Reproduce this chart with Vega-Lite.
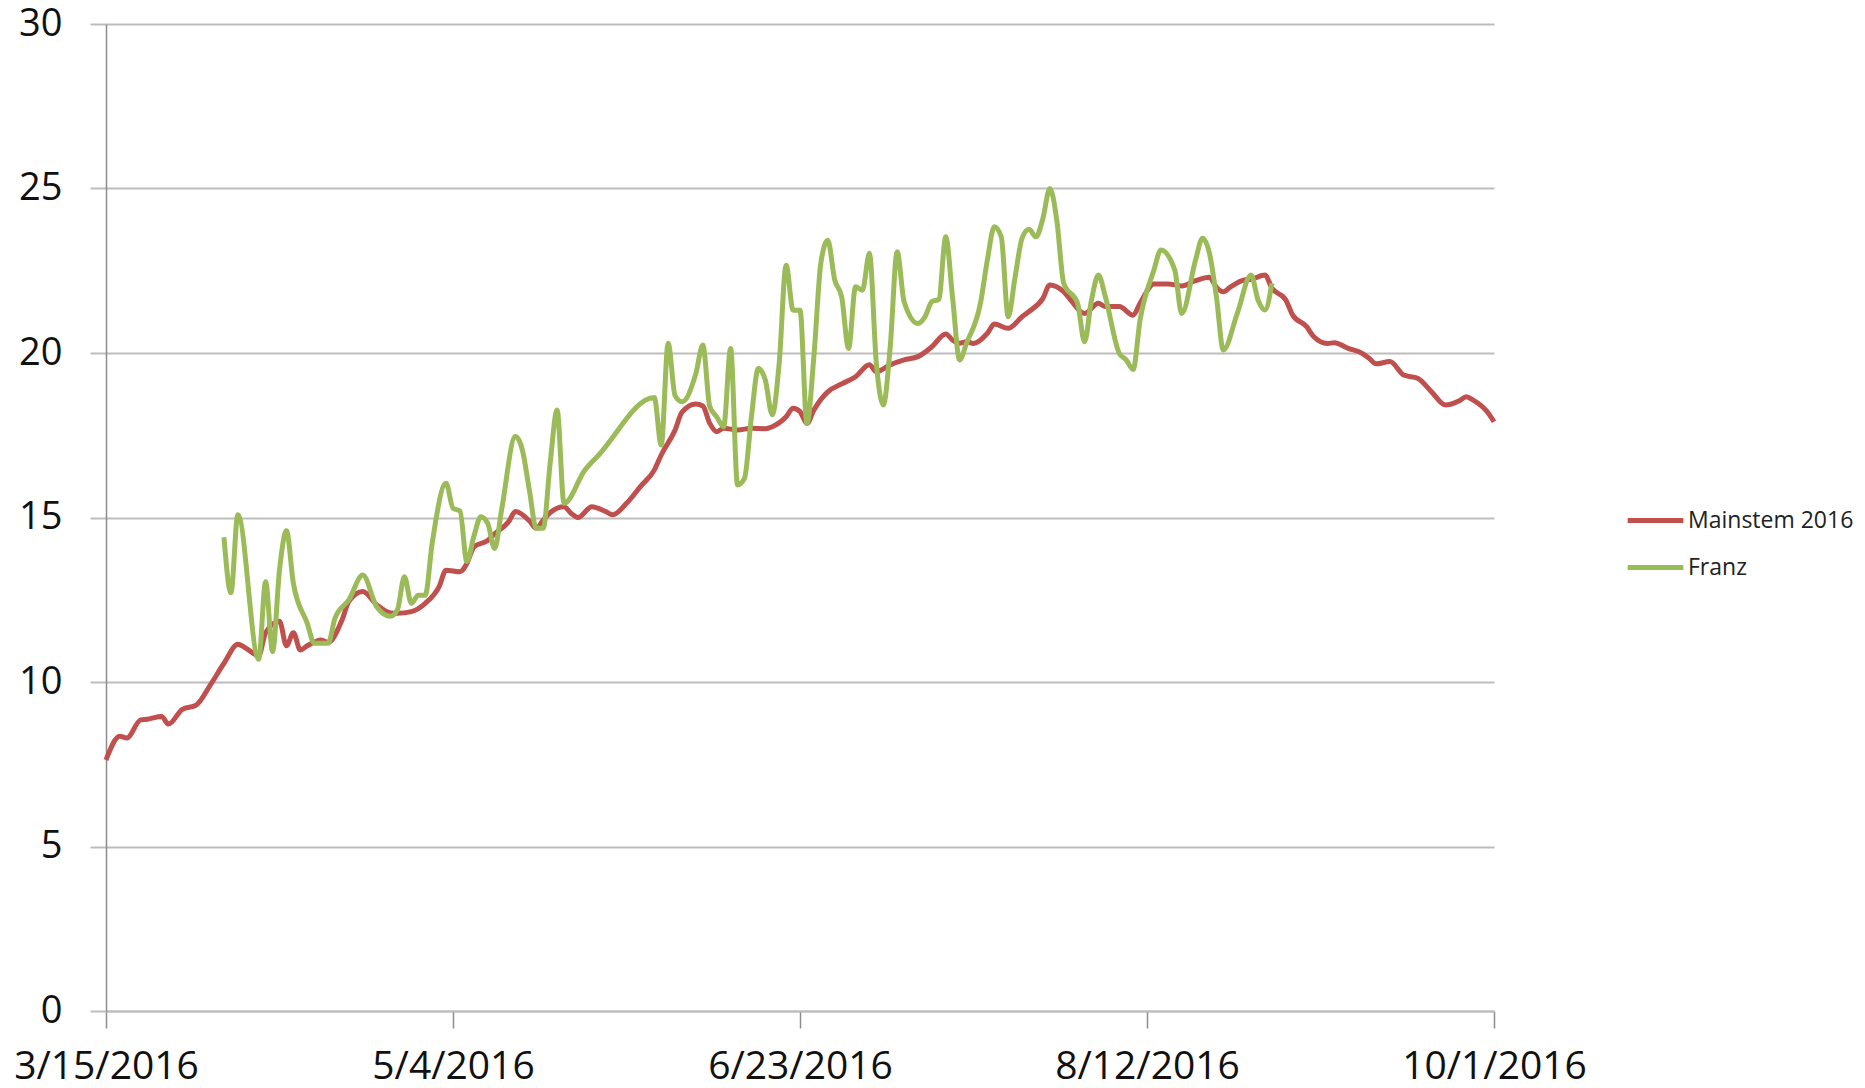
{
  "$schema": "https://vega.github.io/schema/vega-lite/v6.json",
  "autosize": {"type": "none"},
  "padding": {"left": 106, "top": 24, "right": 371, "bottom": 77},
  "width": 1388,
  "height": 987,
  "background": "white",
  "config": {
    "view": {"stroke": null},
    "font": "Open Sans"
  },
  "data": {
    "values": [
      {"date": "2016-03-15", "series": "Mainstem 2016", "temp": 7.63},
      {"date": "2016-03-17", "series": "Mainstem 2016", "temp": 8.35},
      {"date": "2016-03-18", "series": "Mainstem 2016", "temp": 8.3},
      {"date": "2016-03-20", "series": "Mainstem 2016", "temp": 8.85},
      {"date": "2016-03-21", "series": "Mainstem 2016", "temp": 8.87},
      {"date": "2016-03-23", "series": "Mainstem 2016", "temp": 8.95},
      {"date": "2016-03-24", "series": "Mainstem 2016", "temp": 8.72},
      {"date": "2016-03-26", "series": "Mainstem 2016", "temp": 9.17},
      {"date": "2016-03-28", "series": "Mainstem 2016", "temp": 9.3},
      {"date": "2016-03-30", "series": "Mainstem 2016", "temp": 9.9},
      {"date": "2016-04-01", "series": "Mainstem 2016", "temp": 10.57},
      {"date": "2016-04-03", "series": "Mainstem 2016", "temp": 11.15},
      {"date": "2016-04-04", "series": "Mainstem 2016", "temp": 11.05},
      {"date": "2016-04-06", "series": "Mainstem 2016", "temp": 10.8},
      {"date": "2016-04-07", "series": "Mainstem 2016", "temp": 11.5},
      {"date": "2016-04-09", "series": "Mainstem 2016", "temp": 11.85},
      {"date": "2016-04-10", "series": "Mainstem 2016", "temp": 11.1},
      {"date": "2016-04-11", "series": "Mainstem 2016", "temp": 11.5},
      {"date": "2016-04-12", "series": "Mainstem 2016", "temp": 10.97},
      {"date": "2016-04-13", "series": "Mainstem 2016", "temp": 11.1},
      {"date": "2016-04-15", "series": "Mainstem 2016", "temp": 11.28},
      {"date": "2016-04-16", "series": "Mainstem 2016", "temp": 11.2},
      {"date": "2016-04-18", "series": "Mainstem 2016", "temp": 11.88},
      {"date": "2016-04-19", "series": "Mainstem 2016", "temp": 12.45},
      {"date": "2016-04-21", "series": "Mainstem 2016", "temp": 12.75},
      {"date": "2016-04-23", "series": "Mainstem 2016", "temp": 12.35},
      {"date": "2016-04-25", "series": "Mainstem 2016", "temp": 12.1},
      {"date": "2016-04-26", "series": "Mainstem 2016", "temp": 12.09},
      {"date": "2016-04-28", "series": "Mainstem 2016", "temp": 12.14},
      {"date": "2016-04-30", "series": "Mainstem 2016", "temp": 12.39},
      {"date": "2016-05-02", "series": "Mainstem 2016", "temp": 12.9},
      {"date": "2016-05-03", "series": "Mainstem 2016", "temp": 13.4},
      {"date": "2016-05-05", "series": "Mainstem 2016", "temp": 13.35},
      {"date": "2016-05-06", "series": "Mainstem 2016", "temp": 13.6},
      {"date": "2016-05-07", "series": "Mainstem 2016", "temp": 14.1},
      {"date": "2016-05-09", "series": "Mainstem 2016", "temp": 14.3},
      {"date": "2016-05-10", "series": "Mainstem 2016", "temp": 14.5},
      {"date": "2016-05-12", "series": "Mainstem 2016", "temp": 14.87},
      {"date": "2016-05-13", "series": "Mainstem 2016", "temp": 15.18},
      {"date": "2016-05-15", "series": "Mainstem 2016", "temp": 14.9},
      {"date": "2016-05-16", "series": "Mainstem 2016", "temp": 14.67},
      {"date": "2016-05-17", "series": "Mainstem 2016", "temp": 14.92},
      {"date": "2016-05-18", "series": "Mainstem 2016", "temp": 15.15},
      {"date": "2016-05-20", "series": "Mainstem 2016", "temp": 15.33},
      {"date": "2016-05-21", "series": "Mainstem 2016", "temp": 15.13},
      {"date": "2016-05-22", "series": "Mainstem 2016", "temp": 15.0},
      {"date": "2016-05-24", "series": "Mainstem 2016", "temp": 15.33},
      {"date": "2016-05-26", "series": "Mainstem 2016", "temp": 15.18},
      {"date": "2016-05-27", "series": "Mainstem 2016", "temp": 15.08},
      {"date": "2016-05-29", "series": "Mainstem 2016", "temp": 15.43},
      {"date": "2016-05-31", "series": "Mainstem 2016", "temp": 15.94},
      {"date": "2016-06-02", "series": "Mainstem 2016", "temp": 16.44},
      {"date": "2016-06-03", "series": "Mainstem 2016", "temp": 16.9},
      {"date": "2016-06-05", "series": "Mainstem 2016", "temp": 17.66},
      {"date": "2016-06-06", "series": "Mainstem 2016", "temp": 18.2},
      {"date": "2016-06-08", "series": "Mainstem 2016", "temp": 18.45},
      {"date": "2016-06-09", "series": "Mainstem 2016", "temp": 18.39},
      {"date": "2016-06-10", "series": "Mainstem 2016", "temp": 17.86},
      {"date": "2016-06-11", "series": "Mainstem 2016", "temp": 17.61},
      {"date": "2016-06-12", "series": "Mainstem 2016", "temp": 17.71},
      {"date": "2016-06-14", "series": "Mainstem 2016", "temp": 17.66},
      {"date": "2016-06-16", "series": "Mainstem 2016", "temp": 17.71},
      {"date": "2016-06-18", "series": "Mainstem 2016", "temp": 17.7},
      {"date": "2016-06-19", "series": "Mainstem 2016", "temp": 17.76},
      {"date": "2016-06-21", "series": "Mainstem 2016", "temp": 18.06},
      {"date": "2016-06-22", "series": "Mainstem 2016", "temp": 18.32},
      {"date": "2016-06-23", "series": "Mainstem 2016", "temp": 18.22},
      {"date": "2016-06-24", "series": "Mainstem 2016", "temp": 17.86},
      {"date": "2016-06-25", "series": "Mainstem 2016", "temp": 18.27},
      {"date": "2016-06-27", "series": "Mainstem 2016", "temp": 18.82},
      {"date": "2016-06-29", "series": "Mainstem 2016", "temp": 19.06},
      {"date": "2016-07-01", "series": "Mainstem 2016", "temp": 19.28},
      {"date": "2016-07-03", "series": "Mainstem 2016", "temp": 19.64},
      {"date": "2016-07-04", "series": "Mainstem 2016", "temp": 19.43},
      {"date": "2016-07-06", "series": "Mainstem 2016", "temp": 19.64},
      {"date": "2016-07-08", "series": "Mainstem 2016", "temp": 19.79},
      {"date": "2016-07-10", "series": "Mainstem 2016", "temp": 19.89},
      {"date": "2016-07-12", "series": "Mainstem 2016", "temp": 20.19},
      {"date": "2016-07-14", "series": "Mainstem 2016", "temp": 20.58},
      {"date": "2016-07-15", "series": "Mainstem 2016", "temp": 20.39},
      {"date": "2016-07-16", "series": "Mainstem 2016", "temp": 20.3},
      {"date": "2016-07-17", "series": "Mainstem 2016", "temp": 20.34},
      {"date": "2016-07-18", "series": "Mainstem 2016", "temp": 20.29},
      {"date": "2016-07-20", "series": "Mainstem 2016", "temp": 20.6},
      {"date": "2016-07-21", "series": "Mainstem 2016", "temp": 20.88},
      {"date": "2016-07-23", "series": "Mainstem 2016", "temp": 20.75},
      {"date": "2016-07-25", "series": "Mainstem 2016", "temp": 21.1},
      {"date": "2016-07-26", "series": "Mainstem 2016", "temp": 21.26},
      {"date": "2016-07-28", "series": "Mainstem 2016", "temp": 21.66},
      {"date": "2016-07-29", "series": "Mainstem 2016", "temp": 22.07},
      {"date": "2016-07-31", "series": "Mainstem 2016", "temp": 21.86},
      {"date": "2016-08-01", "series": "Mainstem 2016", "temp": 21.61},
      {"date": "2016-08-03", "series": "Mainstem 2016", "temp": 21.2},
      {"date": "2016-08-05", "series": "Mainstem 2016", "temp": 21.51},
      {"date": "2016-08-06", "series": "Mainstem 2016", "temp": 21.41},
      {"date": "2016-08-08", "series": "Mainstem 2016", "temp": 21.41},
      {"date": "2016-08-10", "series": "Mainstem 2016", "temp": 21.15},
      {"date": "2016-08-11", "series": "Mainstem 2016", "temp": 21.51},
      {"date": "2016-08-13", "series": "Mainstem 2016", "temp": 22.1},
      {"date": "2016-08-15", "series": "Mainstem 2016", "temp": 22.1},
      {"date": "2016-08-17", "series": "Mainstem 2016", "temp": 22.04},
      {"date": "2016-08-19", "series": "Mainstem 2016", "temp": 22.2},
      {"date": "2016-08-21", "series": "Mainstem 2016", "temp": 22.3},
      {"date": "2016-08-22", "series": "Mainstem 2016", "temp": 22.0},
      {"date": "2016-08-23", "series": "Mainstem 2016", "temp": 21.86},
      {"date": "2016-08-24", "series": "Mainstem 2016", "temp": 22.0},
      {"date": "2016-08-26", "series": "Mainstem 2016", "temp": 22.22},
      {"date": "2016-08-27", "series": "Mainstem 2016", "temp": 22.24},
      {"date": "2016-08-29", "series": "Mainstem 2016", "temp": 22.37},
      {"date": "2016-08-30", "series": "Mainstem 2016", "temp": 21.97},
      {"date": "2016-09-01", "series": "Mainstem 2016", "temp": 21.61},
      {"date": "2016-09-02", "series": "Mainstem 2016", "temp": 21.15},
      {"date": "2016-09-04", "series": "Mainstem 2016", "temp": 20.8},
      {"date": "2016-09-05", "series": "Mainstem 2016", "temp": 20.5},
      {"date": "2016-09-07", "series": "Mainstem 2016", "temp": 20.29},
      {"date": "2016-09-08", "series": "Mainstem 2016", "temp": 20.31},
      {"date": "2016-09-10", "series": "Mainstem 2016", "temp": 20.14},
      {"date": "2016-09-12", "series": "Mainstem 2016", "temp": 19.99},
      {"date": "2016-09-13", "series": "Mainstem 2016", "temp": 19.84},
      {"date": "2016-09-14", "series": "Mainstem 2016", "temp": 19.67},
      {"date": "2016-09-16", "series": "Mainstem 2016", "temp": 19.74},
      {"date": "2016-09-18", "series": "Mainstem 2016", "temp": 19.33},
      {"date": "2016-09-20", "series": "Mainstem 2016", "temp": 19.23},
      {"date": "2016-09-22", "series": "Mainstem 2016", "temp": 18.82},
      {"date": "2016-09-24", "series": "Mainstem 2016", "temp": 18.42},
      {"date": "2016-09-26", "series": "Mainstem 2016", "temp": 18.55},
      {"date": "2016-09-27", "series": "Mainstem 2016", "temp": 18.67},
      {"date": "2016-09-28", "series": "Mainstem 2016", "temp": 18.57},
      {"date": "2016-09-30", "series": "Mainstem 2016", "temp": 18.22},
      {"date": "2016-10-01", "series": "Mainstem 2016", "temp": 17.91},
      {"date": "2016-04-01", "series": "Franz", "temp": 14.4},
      {"date": "2016-04-02", "series": "Franz", "temp": 12.71},
      {"date": "2016-04-03", "series": "Franz", "temp": 15.08},
      {"date": "2016-04-06", "series": "Franz", "temp": 10.69},
      {"date": "2016-04-07", "series": "Franz", "temp": 13.05},
      {"date": "2016-04-08", "series": "Franz", "temp": 10.92},
      {"date": "2016-04-09", "series": "Franz", "temp": 13.4},
      {"date": "2016-04-10", "series": "Franz", "temp": 14.6},
      {"date": "2016-04-11", "series": "Franz", "temp": 13.0},
      {"date": "2016-04-13", "series": "Franz", "temp": 11.78},
      {"date": "2016-04-14", "series": "Franz", "temp": 11.18},
      {"date": "2016-04-16", "series": "Franz", "temp": 11.18},
      {"date": "2016-04-17", "series": "Franz", "temp": 11.94},
      {"date": "2016-04-19", "series": "Franz", "temp": 12.5},
      {"date": "2016-04-21", "series": "Franz", "temp": 13.25},
      {"date": "2016-04-23", "series": "Franz", "temp": 12.29},
      {"date": "2016-04-25", "series": "Franz", "temp": 12.0},
      {"date": "2016-04-26", "series": "Franz", "temp": 12.2},
      {"date": "2016-04-27", "series": "Franz", "temp": 13.2},
      {"date": "2016-04-28", "series": "Franz", "temp": 12.39},
      {"date": "2016-04-29", "series": "Franz", "temp": 12.64},
      {"date": "2016-04-30", "series": "Franz", "temp": 12.64},
      {"date": "2016-05-01", "series": "Franz", "temp": 14.22},
      {"date": "2016-05-03", "series": "Franz", "temp": 16.04},
      {"date": "2016-05-04", "series": "Franz", "temp": 15.28},
      {"date": "2016-05-05", "series": "Franz", "temp": 15.2},
      {"date": "2016-05-06", "series": "Franz", "temp": 13.66},
      {"date": "2016-05-07", "series": "Franz", "temp": 14.42},
      {"date": "2016-05-08", "series": "Franz", "temp": 15.02},
      {"date": "2016-05-09", "series": "Franz", "temp": 14.82},
      {"date": "2016-05-10", "series": "Franz", "temp": 14.06},
      {"date": "2016-05-11", "series": "Franz", "temp": 15.23},
      {"date": "2016-05-13", "series": "Franz", "temp": 17.46},
      {"date": "2016-05-14", "series": "Franz", "temp": 17.05},
      {"date": "2016-05-15", "series": "Franz", "temp": 15.84},
      {"date": "2016-05-16", "series": "Franz", "temp": 14.67},
      {"date": "2016-05-17", "series": "Franz", "temp": 14.67},
      {"date": "2016-05-18", "series": "Franz", "temp": 16.65},
      {"date": "2016-05-19", "series": "Franz", "temp": 18.27},
      {"date": "2016-05-20", "series": "Franz", "temp": 15.43},
      {"date": "2016-05-23", "series": "Franz", "temp": 16.44},
      {"date": "2016-05-25", "series": "Franz", "temp": 16.9},
      {"date": "2016-06-02", "series": "Franz", "temp": 18.65},
      {"date": "2016-06-03", "series": "Franz", "temp": 17.2},
      {"date": "2016-06-04", "series": "Franz", "temp": 20.3},
      {"date": "2016-06-05", "series": "Franz", "temp": 18.7},
      {"date": "2016-06-06", "series": "Franz", "temp": 18.52},
      {"date": "2016-06-08", "series": "Franz", "temp": 19.38},
      {"date": "2016-06-09", "series": "Franz", "temp": 20.24},
      {"date": "2016-06-10", "series": "Franz", "temp": 18.37},
      {"date": "2016-06-11", "series": "Franz", "temp": 18.06},
      {"date": "2016-06-12", "series": "Franz", "temp": 17.76},
      {"date": "2016-06-13", "series": "Franz", "temp": 20.14},
      {"date": "2016-06-14", "series": "Franz", "temp": 15.99},
      {"date": "2016-06-15", "series": "Franz", "temp": 16.19},
      {"date": "2016-06-16", "series": "Franz", "temp": 18.06},
      {"date": "2016-06-17", "series": "Franz", "temp": 19.53},
      {"date": "2016-06-18", "series": "Franz", "temp": 19.18},
      {"date": "2016-06-19", "series": "Franz", "temp": 18.12},
      {"date": "2016-06-20", "series": "Franz", "temp": 19.69},
      {"date": "2016-06-21", "series": "Franz", "temp": 22.67},
      {"date": "2016-06-22", "series": "Franz", "temp": 21.3},
      {"date": "2016-06-23", "series": "Franz", "temp": 21.3},
      {"date": "2016-06-24", "series": "Franz", "temp": 17.86},
      {"date": "2016-06-25", "series": "Franz", "temp": 19.89},
      {"date": "2016-06-26", "series": "Franz", "temp": 22.73},
      {"date": "2016-06-27", "series": "Franz", "temp": 23.43},
      {"date": "2016-06-28", "series": "Franz", "temp": 22.22},
      {"date": "2016-06-29", "series": "Franz", "temp": 21.71},
      {"date": "2016-06-30", "series": "Franz", "temp": 20.14},
      {"date": "2016-07-01", "series": "Franz", "temp": 22.01},
      {"date": "2016-07-02", "series": "Franz", "temp": 21.91},
      {"date": "2016-07-03", "series": "Franz", "temp": 23.03},
      {"date": "2016-07-04", "series": "Franz", "temp": 19.69},
      {"date": "2016-07-05", "series": "Franz", "temp": 18.42},
      {"date": "2016-07-06", "series": "Franz", "temp": 20.19},
      {"date": "2016-07-07", "series": "Franz", "temp": 23.08},
      {"date": "2016-07-08", "series": "Franz", "temp": 21.56},
      {"date": "2016-07-10", "series": "Franz", "temp": 20.9},
      {"date": "2016-07-11", "series": "Franz", "temp": 21.1},
      {"date": "2016-07-12", "series": "Franz", "temp": 21.56},
      {"date": "2016-07-13", "series": "Franz", "temp": 21.63},
      {"date": "2016-07-14", "series": "Franz", "temp": 23.53},
      {"date": "2016-07-15", "series": "Franz", "temp": 21.65},
      {"date": "2016-07-16", "series": "Franz", "temp": 19.79},
      {"date": "2016-07-17", "series": "Franz", "temp": 20.3},
      {"date": "2016-07-19", "series": "Franz", "temp": 21.51},
      {"date": "2016-07-20", "series": "Franz", "temp": 22.83},
      {"date": "2016-07-21", "series": "Franz", "temp": 23.84},
      {"date": "2016-07-22", "series": "Franz", "temp": 23.53},
      {"date": "2016-07-23", "series": "Franz", "temp": 21.1},
      {"date": "2016-07-24", "series": "Franz", "temp": 22.32},
      {"date": "2016-07-25", "series": "Franz", "temp": 23.49},
      {"date": "2016-07-26", "series": "Franz", "temp": 23.76},
      {"date": "2016-07-27", "series": "Franz", "temp": 23.53},
      {"date": "2016-07-28", "series": "Franz", "temp": 24.09},
      {"date": "2016-07-29", "series": "Franz", "temp": 25.0},
      {"date": "2016-07-30", "series": "Franz", "temp": 24.04},
      {"date": "2016-07-31", "series": "Franz", "temp": 22.12},
      {"date": "2016-08-02", "series": "Franz", "temp": 21.51},
      {"date": "2016-08-03", "series": "Franz", "temp": 20.34},
      {"date": "2016-08-04", "series": "Franz", "temp": 21.61},
      {"date": "2016-08-05", "series": "Franz", "temp": 22.37},
      {"date": "2016-08-06", "series": "Franz", "temp": 21.71},
      {"date": "2016-08-08", "series": "Franz", "temp": 19.99},
      {"date": "2016-08-09", "series": "Franz", "temp": 19.79},
      {"date": "2016-08-10", "series": "Franz", "temp": 19.5},
      {"date": "2016-08-11", "series": "Franz", "temp": 21.0},
      {"date": "2016-08-13", "series": "Franz", "temp": 22.52},
      {"date": "2016-08-14", "series": "Franz", "temp": 23.13},
      {"date": "2016-08-16", "series": "Franz", "temp": 22.52},
      {"date": "2016-08-17", "series": "Franz", "temp": 21.2},
      {"date": "2016-08-19", "series": "Franz", "temp": 22.83},
      {"date": "2016-08-20", "series": "Franz", "temp": 23.49},
      {"date": "2016-08-21", "series": "Franz", "temp": 23.03},
      {"date": "2016-08-22", "series": "Franz", "temp": 21.71},
      {"date": "2016-08-23", "series": "Franz", "temp": 20.09},
      {"date": "2016-08-25", "series": "Franz", "temp": 21.2},
      {"date": "2016-08-27", "series": "Franz", "temp": 22.37},
      {"date": "2016-08-28", "series": "Franz", "temp": 21.61},
      {"date": "2016-08-29", "series": "Franz", "temp": 21.31},
      {"date": "2016-08-30", "series": "Franz", "temp": 22.12}
    ]
  },
  "encoding": {
    "x": {
      "field": "date",
      "type": "temporal",
      "title": null,
      "scale": {
        "type": "utc",
        "domain": [
          {"year": 2016, "month": 3, "date": 15, "utc": true},
          {"year": 2016, "month": 10, "date": 1, "utc": true}
        ]
      },
      "axis": {
        "values": [
          {"year": 2016, "month": 3, "date": 15, "utc": true},
          {"year": 2016, "month": 5, "date": 4, "utc": true},
          {"year": 2016, "month": 6, "date": 23, "utc": true},
          {"year": 2016, "month": 8, "date": 12, "utc": true},
          {"year": 2016, "month": 10, "date": 1, "utc": true}
        ],
        "labelExpr": "utcFormat(datum.value, '%-m/%-d/%Y')",
        "grid": false,
        "domainColor": "#BDBDBD",
        "domainWidth": 2,
        "tickColor": "#8C8C8C",
        "tickWidth": 1.5,
        "tickSize": 17,
        "labelFont": "Open Sans",
        "labelFontSize": 39,
        "labelColor": "#111111",
        "labelPadding": 19,
        "labelLimit": 0,
        "labelFlush": false,
        "labelOverlap": false
      }
    },
    "y": {
      "field": "temp",
      "type": "quantitative",
      "title": null,
      "scale": {"domain": [0, 30], "nice": false, "zero": true},
      "axis": {
        "values": [0, 5, 10, 15, 20, 25, 30],
        "grid": true,
        "gridColor": "#BDBDBD",
        "gridWidth": 2,
        "domainColor": "#8C8C8C",
        "domainWidth": 1.5,
        "tickColor": "#BDBDBD",
        "tickWidth": 2,
        "tickSize": 16,
        "labelFont": "Open Sans",
        "labelFontSize": 38,
        "labelColor": "#111111",
        "labelPadding": 28,
        "labelLimit": 0
      }
    },
    "color": {
      "field": "series",
      "type": "nominal",
      "scale": {"domain": ["Mainstem 2016", "Franz"], "range": ["#C0504D", "#9BBB59"]},
      "legend": {
        "title": null,
        "orient": "none",
        "legendX": 1519,
        "legendY": 466,
        "symbolType": "stroke",
        "symbolSize": 3100,
        "symbolStrokeWidth": 5,
        "labelFont": "Open Sans",
        "labelFontSize": 23,
        "labelColor": "#222222",
        "labelOffset": 2,
        "labelLimit": 0,
        "rowPadding": 4,
        "padding": 0
      }
    }
  },
  "layer": [
    {
      "transform": [{"filter": "datum.series === 'Mainstem 2016'"}],
      "mark": {"type": "line", "strokeWidth": 5, "interpolate": "monotone"}
    },
    {
      "transform": [{"filter": "datum.series === 'Franz'"}],
      "mark": {"type": "line", "strokeWidth": 5, "interpolate": "monotone"}
    }
  ]
}
